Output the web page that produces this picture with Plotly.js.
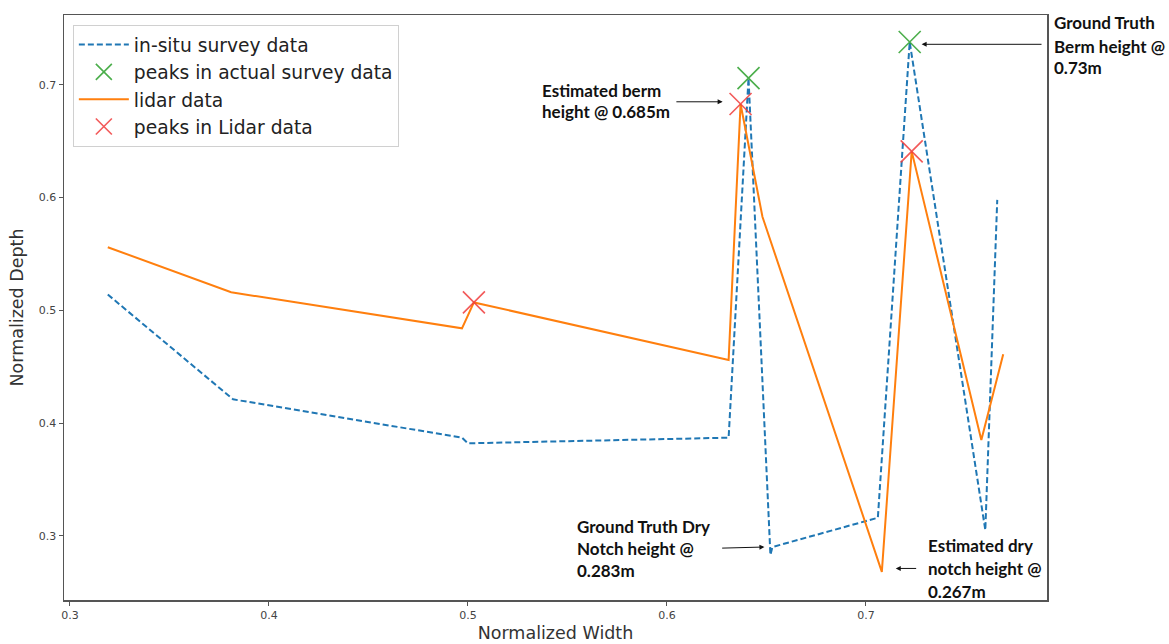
<!DOCTYPE html>
<html>
<head>
<meta charset="utf-8">
<script src="https://cdn.plot.ly/plotly-3.0.1.min.js"></script>
<style>html,body{margin:0;padding:0;background:#fff;}#chart{width:1169px;height:644px;}</style>
</head>
<body>
<div id="chart"></div>
<script>
// Data
const surveyX = [0.319, 0.382, 0.497, 0.500, 0.631, 0.641, 0.652, 0.653, 0.706, 0.722, 0.760, 0.766];
const surveyY = [0.514, 0.421, 0.387, 0.382, 0.387, 0.706, 0.283, 0.290, 0.316, 0.738, 0.305, 0.598];
const surveyPeakX = [0.641, 0.722];
const surveyPeakY = [0.706, 0.738];
const lidarX = [0.319, 0.381, 0.497, 0.503, 0.631, 0.637, 0.648, 0.708, 0.723, 0.758, 0.769];
const lidarY = [0.556, 0.516, 0.484, 0.507, 0.456, 0.683, 0.583, 0.268, 0.641, 0.385, 0.461];
const lidarPeakX = [0.503, 0.637, 0.723];
const lidarPeakY = [0.507, 0.683, 0.641];
const tickVals = [0.3, 0.4, 0.5, 0.6, 0.7];
const tickText = ['0.3', '0.4', '0.5', '0.6', '0.7'];
const names = ['in-situ survey data', 'peaks in actual survey data', 'lidar data', 'peaks in Lidar data'];
const noteBerm = ['Estimated berm', 'height @ 0.685m'];
const noteTruthBerm = ['Ground Truth', 'Berm height @', '0.73m'];
const noteTruthNotch = ['Ground Truth Dry', 'Notch height @', '0.283m'];
const noteNotch = ['Estimated dry', 'notch height @', '0.267m'];

const traces = [
  {x: surveyX, y: surveyY, mode: 'lines', name: names[0], legendgroup: 'a',
   line: {color: '#1f77b4', width: 2, dash: '6px,3px'}},
  {x: surveyPeakX, y: surveyPeakY, mode: 'markers', name: names[1], legendgroup: 'b',
   marker: {symbol: 'x-thin-open', size: 22, color: 'rgba(44,160,44,0.85)', line: {width: 1.6, color: 'rgba(44,160,44,0.85)'}}},
  {x: lidarX, y: lidarY, mode: 'lines', name: names[2], legendgroup: 'c',
   line: {color: '#ff7f0e', width: 2}},
  {x: lidarPeakX, y: lidarPeakY, mode: 'markers', name: names[3], legendgroup: 'd',
   marker: {symbol: 'x-thin-open', size: 22, color: 'rgba(240,60,60,0.85)', line: {width: 1.6, color: 'rgba(240,60,60,0.85)'}}}
];

const annFont = {family: 'Lato, "Open Sans", sans-serif', size: 17, color: '#111'};
function arrow(tx, ty, hx, hy) {
  return {x: hx, y: hy, ax: tx, ay: ty, xref: 'x', yref: 'y', axref: 'x', ayref: 'y',
          text: '', showarrow: true, arrowhead: 2, arrowsize: 1, arrowwidth: 1, arrowcolor: '#111', standoff: 0, startstandoff: 0};
}
// paper coords helpers (plot area px: left 64, right 1047, top 15, bottom 600)
function px(p) { return (p - 64) / 983; }
function py(p) { return (600 - p) / 585; }
function block(lines, left, ys) {
  return lines.map((t, i) => ({x: px(left), y: py(ys[i]), xref: 'paper', yref: 'paper',
    xanchor: 'left', yanchor: 'middle', align: 'left', borderpad: 0,
    text: '<b>' + t + '</b>', showarrow: false, font: annFont}));
}

const layout = {
  width: 1169, height: 644,
  margin: {l: 64, r: 122, t: 15, b: 44},
  paper_bgcolor: '#fff', plot_bgcolor: '#fff',
  font: {family: 'DejaVu Sans, sans-serif', color: '#333'},
  showlegend: true,
  legend: {x: 0.009, y: 0.983, xanchor: 'left', yanchor: 'top', bgcolor: 'rgba(255,255,255,0.9)',
           bordercolor: '#d0d0d0', borderwidth: 1, font: {size: 18.7, color: '#222'},
           tracegroupgap: 0, traceorder: 'grouped', itemsizing: 'trace', itemwidth: 50},
  xaxis: {range: [0.297, 0.791], tickvals: tickVals, ticktext: tickText, showgrid: false, zeroline: false,
          showline: true, mirror: true, linecolor: '#555', linewidth: 1.5, ticks: 'outside', ticklen: 4,
          tickcolor: '#555', tickfont: {size: 11, color: '#444'},
          title: {text: 'Normalized Width', font: {size: 17.5, color: '#333'}, standoff: 6}},
  yaxis: {range: [0.243, 0.762], tickvals: tickVals, ticktext: tickText, showgrid: false, zeroline: false,
          showline: true, mirror: true, linecolor: '#555', linewidth: 1.5, ticks: 'outside', ticklen: 4,
          tickcolor: '#555', tickfont: {size: 11, color: '#444'},
          title: {text: 'Normalized Depth', font: {size: 17.5, color: '#333'}, standoff: 10}},
  annotations: [].concat(
    block(noteBerm, 541, [90.5, 112]),
    [arrow(0.604, 0.685, 0.628, 0.685)],
    block(noteTruthBerm, 1053, [22.5, 46, 67.5]),
    [arrow(0.789, 0.736, 0.728, 0.736)],
    block(noteTruthNotch, 576, [526.5, 548, 570]),
    [arrow(0.627, 0.289, 0.649, 0.290)],
    block(noteNotch, 927, [545.5, 568.5, 591.5]),
    [arrow(0.726, 0.271, 0.715, 0.271)]
  )
};
Plotly.newPlot('chart', traces, layout, {displayModeBar: false, staticPlot: true});
</script>
</body>
</html>
